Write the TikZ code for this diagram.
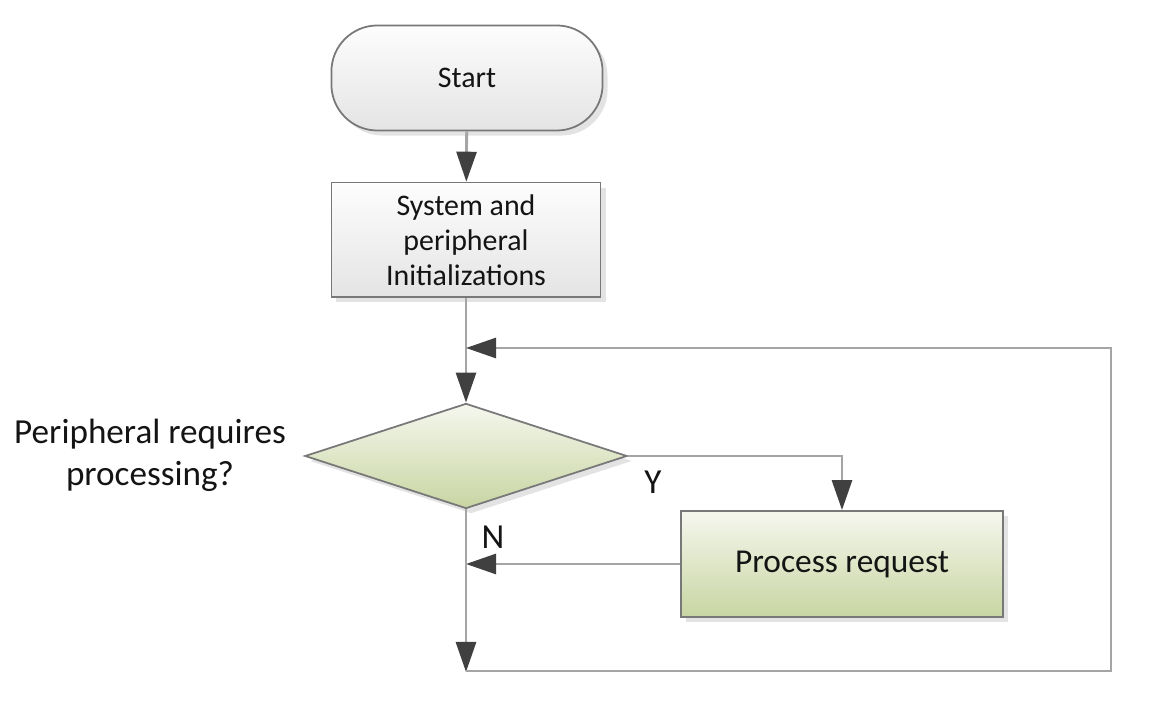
\documentclass[tikz,border=0pt]{standalone}
\usepackage{fontspec}
\setmainfont{Carlito}
\usepackage{tikz}
\usetikzlibrary{shapes.geometric, arrows.meta, positioning, calc, shadows}
\definecolor{mylinegray}{RGB}{165,165,165}
\definecolor{myborder}{RGB}{120,120,120}
\definecolor{mytip}{RGB}{64,64,64}
\definecolor{mytext}{RGB}{20,20,20}
\definecolor{greentop}{RGB}{245,247,238}
\definecolor{greenbot}{RGB}{200,213,162}
\definecolor{graytop}{RGB}{253,253,253}
\definecolor{graybot}{RGB}{228,228,228}
\tikzset{
  shade/.style={drop shadow={shadow xshift=0.05cm, shadow yshift=-0.05cm, opacity=0.22}},
  termbox/.style={rectangle, draw=myborder, top color=graytop, bottom color=graybot, minimum width=2.71cm, minimum height=1.05cm, rounded corners=0.46cm, font=\fontsize{8.5}{10}\selectfont, text=mytext, line width=0.5pt, shade},
  graybox/.style={rectangle, draw=myborder, top color=graytop, bottom color=graybot, minimum width=2.69cm, minimum height=1.10cm, align=center, font=\fontsize{8.5}{10}\selectfont, text=mytext, line width=0.5pt, shade},
  decbox/.style={diamond, draw=myborder, top color=greentop, bottom color=greenbot, minimum width=3.22cm, minimum height=1.05cm, inner sep=0pt, line width=0.5pt, shade},
  greenbox/.style={rectangle, draw=myborder, top color=greentop, bottom color=greenbot, minimum width=3.22cm, minimum height=1.06cm, font=\fontsize{9.5}{11}\selectfont, text=mytext, line width=0.5pt, shade},
  label/.style={font=\fontsize{10}{12}\selectfont, text=mytext, align=center},
  conn/.style={-{Triangle[length=3mm, width=2mm, color=mytip]}, line width=0.8pt, color=mylinegray},
  line/.style={line width=0.8pt, color=mylinegray}
}
\begin{document}
\begin{tikzpicture}[x=0.01cm, y=-0.01cm]
  \useasboundingbox (0,0) rectangle (1154,710);

  % Blocks
  \node[termbox] (start) at (467,78) {Start};
  \node[graybox] (init) at (466,240) {System and\\peripheral\\Initializations};
  \node[decbox] (dec) at (466,456) {};
  \node[label] (question) at (150,455) {Peripheral requires\\processing?};
  \node[greenbox] (proc) at (842,564) {Process request};

  % Loop corners
  \coordinate (loopbot) at (466,672);
  \coordinate (cornerbl) at (1111,671);
  \coordinate (cornertr) at (1111,348);
  \coordinate (loopin) at (466,348);

  % Connectors
  \draw[conn] (start) -- (init);
  \draw[conn] (init) -- (dec);
  \draw[conn] (dec.east) -| (proc.north);
  \draw[conn] (proc.west) -- (proc.west -| dec.south);
  \draw[conn] (dec.south) -- (loopbot);
  \draw[conn] (loopbot |- cornerbl) -- (cornerbl) -- (cornertr) -- (loopin);

  % Branch labels
  \node[label] (yes) at (653,482) {Y};
  \node[label] (no) at (493,537) {N};
\end{tikzpicture}
\end{document}
